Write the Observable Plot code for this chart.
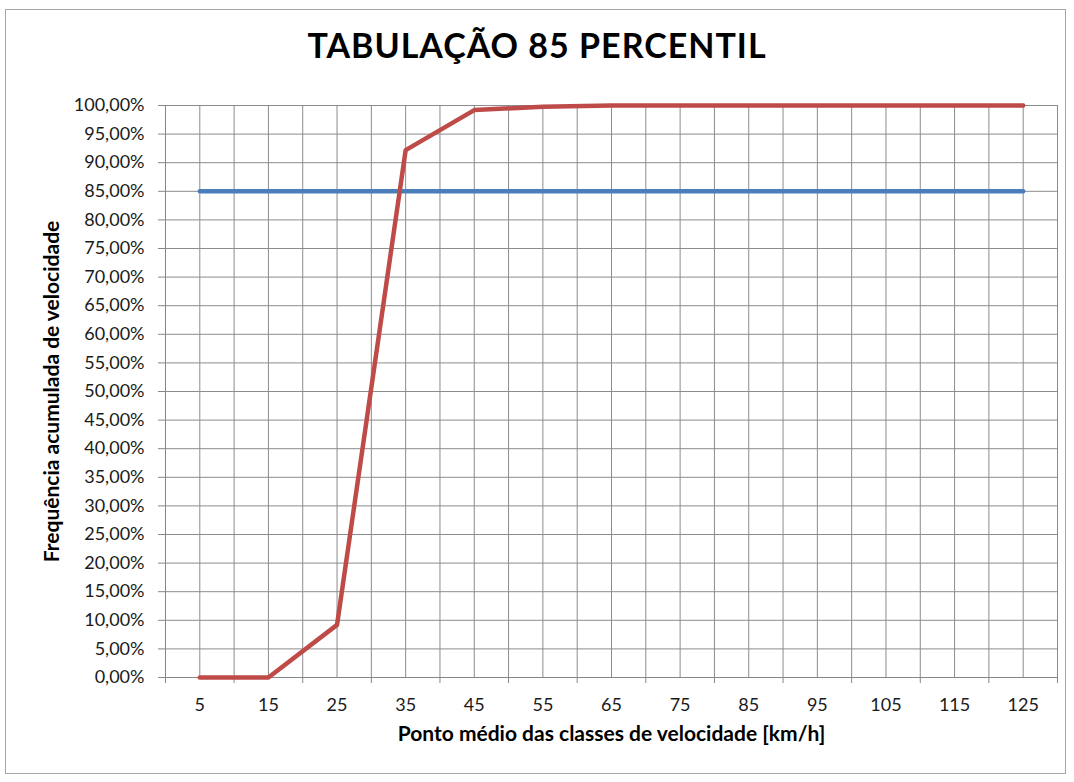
<!DOCTYPE html>
<html><head><meta charset="utf-8">
<script src="https://cdn.jsdelivr.net/npm/d3@7"></script>
<script src="https://cdn.jsdelivr.net/npm/@observablehq/plot@0.6"></script>
<style>
body{margin:0;background:#fff;font-family:Lato,sans-serif;}
#wrap{position:relative;width:1074px;height:782px;overflow:hidden;background:#fff;}
#border{position:absolute;left:5px;top:9px;width:1061px;height:765px;border:1px solid #a6a6a6;box-sizing:border-box;}
#title{position:absolute;left:0;top:28px;width:1074px;text-align:center;font-weight:bold;font-size:34px;line-height:34px;letter-spacing:1px;font-family:Lato,sans-serif;color:#000;}
#chart{position:absolute;left:0;top:75px;}
</style></head><body>
<div id="wrap"><div id="border"></div><div id="title">TABULAÇÃO 85 PERCENTIL</div><div id="chart"></div></div>
<script>
const speeds = [5, 15, 25, 35, 45, 55, 65, 75, 85, 95, 105, 115, 125];
const cumulativeFreq = [0, 0, 0.092, 0.922, 0.992, 0.998, 1, 1, 1, 1, 1, 1, 1];
const percentile85 = [0.85, 0.85, 0.85, 0.85, 0.85, 0.85, 0.85, 0.85, 0.85, 0.85, 0.85, 0.85, 0.85];
const yTicks = [0, 0.05, 0.10, 0.15, 0.20, 0.25, 0.30, 0.35, 0.40, 0.45, 0.50, 0.55, 0.60, 0.65, 0.70, 0.75, 0.80, 0.85, 0.90, 0.95, 1.00];
const xTitle = "Ponto médio das classes de velocidade [km/h]";
const yTitle = "Frequência acumulada de velocidade";

const data = speeds.map((s, i) => ({speed: s, freq: cumulativeFreq[i], p85: percentile85[i]}));
const fmt = v => (v * 100).toFixed(2).replace(".", ",") + "%";
const gridTicks = d3.range(0, 131, 5);
const boundTicks = d3.range(0, 131, 10);

const chart = Plot.plot({
  width: 1074, height: 707,
  marginLeft: 165, marginRight: 17, marginTop: 30, marginBottom: 105,
  style: {fontFamily: "Lato, sans-serif", fontSize: "18px", color: "#1a1a1a", background: "transparent", overflow: "visible"},
  x: {type: "linear", domain: [0, 130]},
  y: {domain: [0, 1]},
  marks: [
    Plot.gridX(gridTicks, {stroke: "#8c8c8c", strokeOpacity: 1, strokeWidth: 1}),
    Plot.gridY(yTicks, {stroke: "#8c8c8c", strokeOpacity: 1, strokeWidth: 1}),
    Plot.ruleX([0], {stroke: "#868686"}),
    Plot.ruleY([0], {stroke: "#868686"}),
    Plot.axisY(yTicks, {tickFormat: fmt, tickSize: 7, tickPadding: 14, stroke: "#868686", label: null, fontSize: 18}),
    Plot.axisX(boundTicks, {tickSize: 6, tickFormat: () => "", stroke: "#868686", label: null}),
    Plot.axisX(speeds, {tickSize: 0, tickPadding: 21, label: null, fontSize: 18}),
    Plot.line(data, {x: "speed", y: "p85", stroke: "#4a7ebb", strokeWidth: 4.5}),
    Plot.line(data, {x: "speed", y: "freq", stroke: "#be4b48", strokeWidth: 4.5, strokeLinejoin: "round"}),
    Plot.text([xTitle], {frameAnchor: "bottom", textAnchor: "middle", dy: 63, fontWeight: "bold", fontSize: 21, fill: "#000"}),
    Plot.text([yTitle], {frameAnchor: "left", textAnchor: "middle", dx: -113, rotate: -90, fontWeight: "bold", fontSize: 21, fill: "#000"})
  ]
});
document.getElementById("chart").appendChild(chart);
</script>
</body></html>
